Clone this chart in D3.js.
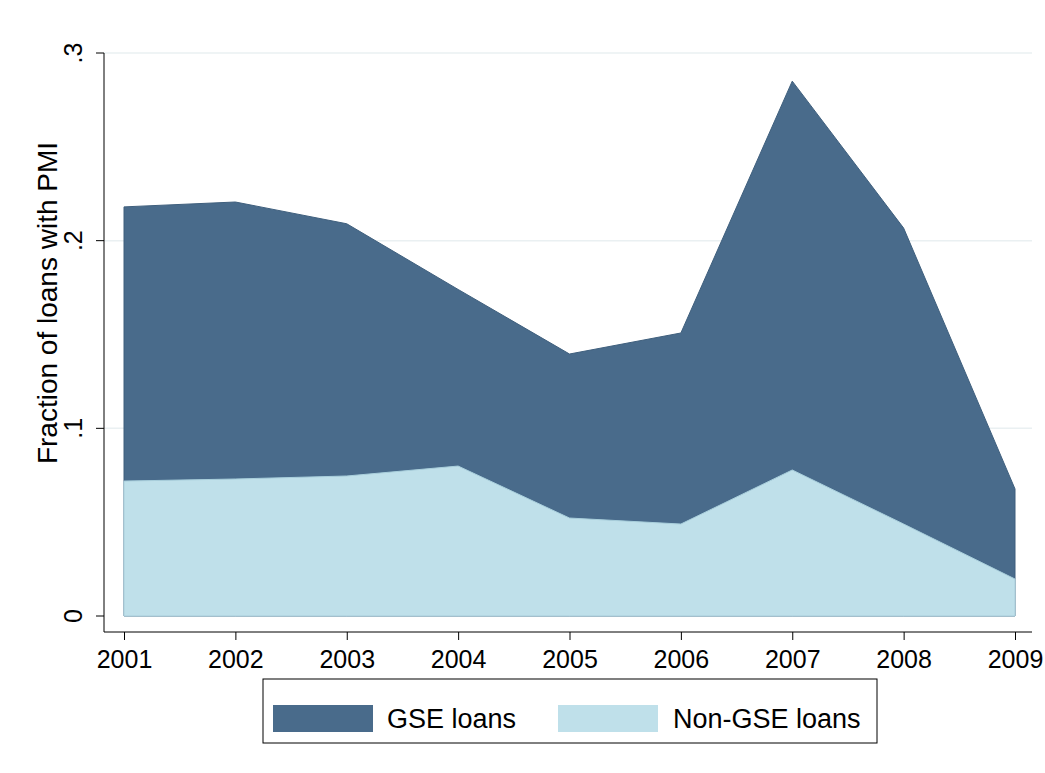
<!DOCTYPE html>
<html><head><meta charset="utf-8">
<script src="https://cdn.jsdelivr.net/npm/d3@7"></script>
<style>body{margin:0;background:#fff}text{font-family:Arial,"Liberation Sans",sans-serif}</style>
</head><body><div id="chart"></div>
<script>
const years = [2001, 2002, 2003, 2004, 2005, 2006, 2007, 2008, 2009];
const gse = [0.218, 0.2206, 0.209, 0.174, 0.1396, 0.1508, 0.285, 0.2067, 0.0677];
const nonGse = [0.0719, 0.073, 0.0746, 0.0799, 0.0522, 0.049, 0.0778, 0.049, 0.0197];
const yTicks = [0, 0.1, 0.2, 0.3];
const yTickLabels = ["0", ".1", ".2", ".3"];

const width = 1045, height = 773;
const svg = d3.select("#chart").append("svg").attr("width", width).attr("height", height);

const x = d3.scaleLinear().domain([2001, 2009]).range([124, 1015]);
const y = d3.scaleLinear().domain([0, 0.3]).range([616, 53]);
const fs = 25;

// gridlines
svg.append("g").selectAll("line").data(yTicks.slice(1)).enter().append("line")
    .attr("x1", 104).attr("x2", 1032)
    .attr("y1", d => y(d)).attr("y2", d => y(d))
    .attr("stroke", "#eaf0f2").attr("stroke-width", 1.5);

const area = vals => d3.area()
    .x((d, i) => x(years[i]))
    .y0(y(0)).y1(d => y(d))(vals);

svg.append("path").attr("d", area(gse)).attr("fill", "#496b8b").attr("stroke", "#3f5f7d").attr("stroke-width", 1);
svg.append("path").attr("d", area(nonGse)).attr("fill", "#bfe0ea").attr("stroke", "#a9cfdc").attr("stroke-width", 1);

// y axis
const yAxis = svg.append("g").attr("transform", "translate(104,0)")
    .call(d3.axisLeft(y).tickValues(yTicks).tickFormat((d, i) => yTickLabels[i]).tickSize(8));
yAxis.selectAll("g.tick").attr("transform", null);
yAxis.selectAll("g.tick line").attr("y1", d => y(d)).attr("y2", d => y(d)).attr("stroke", "#000");
yAxis.selectAll("g.tick text").attr("font-size", fs).attr("fill", "#000")
    .attr("transform", "rotate(-90)").attr("x", d => -y(d)).attr("y", -22).attr("dy", 0)
    .attr("text-anchor", "middle");
yAxis.select(".domain").attr("d", `M0,${y(0.3)}V${y(0) + 16}`).attr("stroke", "#000");

// x axis
const xAxis = svg.append("g").attr("transform", "translate(0,632)")
    .call(d3.axisBottom(x).tickValues(years).tickFormat(d3.format("d")).tickSize(8).tickPadding(10));
xAxis.selectAll("text").attr("font-size", fs).attr("fill", "#000");
xAxis.selectAll("line").attr("stroke", "#000");
xAxis.select(".domain").attr("d", `M104,0H1032`).attr("stroke", "#000");

svg.append("text").attr("transform", "rotate(-90)").attr("x", -303).attr("y", 57)
    .attr("text-anchor", "middle").attr("font-size", 28).text("Fraction of loans with PMI");

// legend
const lg = svg.append("g");
lg.append("rect").attr("x", 263).attr("y", 679).attr("width", 614).attr("height", 64)
    .attr("fill", "#fff").attr("stroke", "#000").attr("stroke-width", 1);
lg.append("rect").attr("x", 273).attr("y", 705).attr("width", 100).attr("height", 27).attr("fill", "#496b8b");
lg.append("text").attr("x", 387).attr("y", 728).attr("font-size", 27).text("GSE loans");
lg.append("rect").attr("x", 558).attr("y", 705).attr("width", 100).attr("height", 27).attr("fill", "#bfe0ea");
lg.append("text").attr("x", 673).attr("y", 728).attr("font-size", 27).text("Non-GSE loans");
</script></body></html>
